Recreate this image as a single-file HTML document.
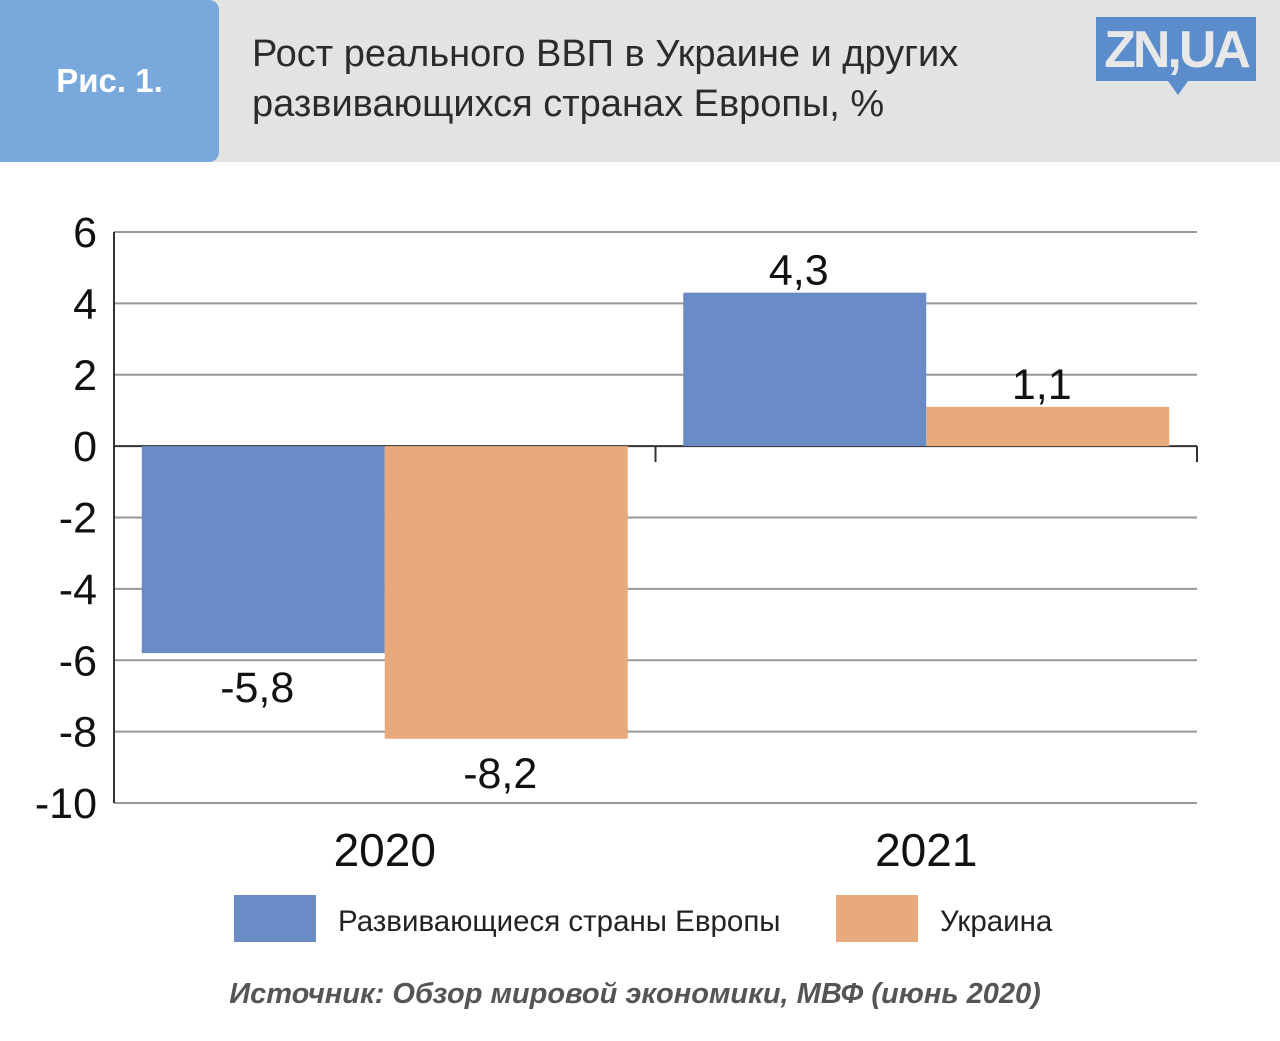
<!DOCTYPE html>
<html><head><meta charset="utf-8"><style>
body{margin:0;width:1280px;height:1041px;background:#fff;font-family:"Liberation Sans",sans-serif;overflow:hidden;position:relative}
.hdr{position:absolute;left:0;top:0;width:1280px;height:162px;background:#e3e3e3}
.tab{position:absolute;left:0;top:0;width:219px;height:162px;background:#79a9dc;border-radius:0 10px 10px 0;color:#fff;font-weight:bold;font-size:33px;display:flex;align-items:center;justify-content:center}
.title{position:absolute;left:252px;top:29px;font-size:38px;line-height:50px;color:#2b2b2b}
.logo{position:absolute;left:1096px;top:17px;width:160px;height:64px;background:#5b8ccc;color:#e8e8e8;font-weight:bold;font-size:52px;line-height:66px;text-align:center;letter-spacing:-3px}
.logo:after{content:"";position:absolute;left:72px;bottom:-14px;border-left:10px solid transparent;border-right:10px solid transparent;border-top:14px solid #5b8ccc}
</style></head><body>
<div class="hdr"></div>
<div class="tab">Рис. 1.</div>
<div class="title">Рост реального ВВП в Украине и других<br>развивающихся странах Европы, %</div>
<div class="logo">ZN,UA</div>
<svg id="chart" width="1280" height="1041" style="position:absolute;left:0;top:0"></svg>
<script>
const categories=["2020","2021"];
const europeValues=[-5.8,4.3];
const ukraineValues=[-8.2,1.1];
const valueLabels1=["-5,8","4,3"];
const valueLabels2=["-8,2","1,1"];
const yTicks=[6,4,2,0,-2,-4,-6,-8,-10];
const seriesNames=["Развивающиеся страны Европы","Украина"];
const colors=["#6a8bc5","#e8aa7d"];
const svg=document.getElementById('chart');
const NS="http://www.w3.org/2000/svg";
const x0=114,x1=1197,yTop=232,yBot=803,vMax=6,vMin=-10;
const y=v=>yTop+(vMax-v)*(yBot-yTop)/(vMax-vMin);
const bandW=(x1-x0)/categories.length;
function mk(t,a,txt){const e=document.createElementNS(NS,t);for(const k in a)e.setAttribute(k,a[k]);if(txt!==undefined)e.textContent=txt;svg.appendChild(e);return e;}
yTicks.forEach(v=>{
 const l=mk('line',{x1:x0,x2:x1,y1:y(v),y2:y(v),stroke:v===0?'#333':'#999','stroke-width':2});
 
 
 const t=mk('text',{x:97,y:y(v)+15,'text-anchor':'end','font-size':43,fill:'#111'},String(v));
 
 
});
const ax=mk('line',{x1:x0,x2:x0,y1:yTop,y2:yBot,stroke:'#333','stroke-width':2});


[x0+bandW,x1].forEach(xx=>{const tk=mk('line',{x1:xx,x2:xx,y1:y(0),y2:y(0)+16,stroke:'#333','stroke-width':2});
 
 });
const barW=243,pad=(bandW-2*barW)/2;
categories.forEach((c,i)=>{
 [europeValues,ukraineValues].forEach((vals,s)=>{
  const v=vals[i];const bx=x0+i*bandW+pad+s*barW;
  const r=mk('rect',{x:bx,y:Math.min(y(0),y(v)),width:barW,height:Math.abs(y(v)-y(0)),fill:colors[s]});
  
  
  const lbl=(s?valueLabels2:valueLabels1)[i];
  const ly=v<0?y(v)+49:y(v)-8;
  const t=mk('text',{x:bx+barW/2-6,y:ly,'text-anchor':'middle','font-size':43,fill:'#111'},lbl);
  
  
 });
 const t=mk('text',{x:x0+i*bandW+bandW/2,y:866,'text-anchor':'middle','font-size':46,fill:'#111'},c);
 
 
});
const legX=[234,836];
seriesNames.forEach((n,s)=>{
 const r=mk('rect',{x:legX[s],y:895,width:82,height:47,fill:colors[s]});
 
 
 const t=mk('text',{x:legX[s]+104,y:931,'font-size':29.5,fill:'#222'},n);
 
 
});
const src=mk('text',{x:635,y:1003,'text-anchor':'middle','font-size':29,'font-weight':'bold','font-style':'italic',fill:'#555'},'Источник: Обзор мировой экономики, МВФ (июнь 2020)');


</script>
</body></html>
